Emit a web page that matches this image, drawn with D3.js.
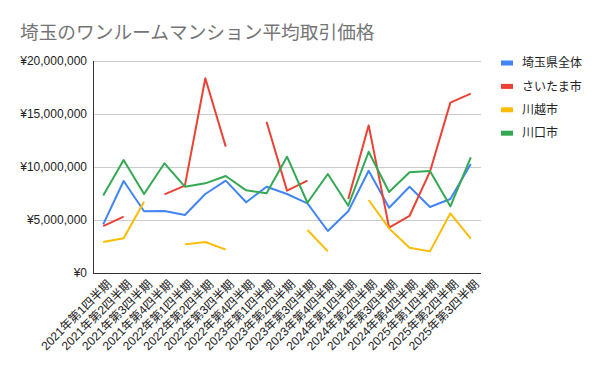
<!DOCTYPE html>
<html>
<head>
<meta charset="utf-8">
<script src="https://cdn.jsdelivr.net/npm/d3@7"></script>
<style>
  body { margin: 0; background: #fff; }
  svg { font-family: Arial, "Liberation Sans", "Noto Sans CJK JP", sans-serif; }
</style>
</head>
<body>
<div id="chart"></div>
<script>
const quarters = [
  "2021年第1四半期", "2021年第2四半期", "2021年第3四半期", "2021年第4四半期",
  "2022年第1四半期", "2022年第2四半期", "2022年第3四半期", "2022年第4四半期",
  "2023年第1四半期", "2023年第2四半期", "2023年第3四半期", "2023年第4四半期",
  "2024年第1四半期", "2024年第2四半期", "2024年第3四半期", "2024年第4四半期",
  "2025年第1四半期", "2025年第2四半期", "2025年第3四半期"
];

// null = no data for that quarter (line breaks)
const saitamaPref = [4590000, 8680000, 5820000, 5850000, 5470000, 7450000, 8710000, 6670000, 8140000, 7450000,
  6570000, 3960000, 5820000, 9650000, 6160000, 8140000, 6230000, 6980000, 10280000];
const saitamaCity = [4430000, 5310000, null, 7420000, 8240000, 18370000, 11920000, null, 14270000, 7770000,
  8710000, null, 6980000, 13930000, 4280000, 5380000, 9560000, 16070000, 16920000];
const kawagoe = [2920000, 3270000, 6730000, null, 2700000, 2920000, 2200000, null, null, null,
  4060000, 2040000, null, 6890000, 4210000, 2390000, 2040000, 5630000, 3240000];
const kawaguchi = [7300000, 10660000, 7450000, 10350000, 8140000, 8460000, 9150000, 7800000, 7520000, 10970000,
  6630000, 9340000, 6350000, 11440000, 7640000, 9500000, 9620000, 6290000, 10910000];

const seriesNames = ["埼玉県全体", "さいたま市", "川越市", "川口市"];
const seriesColors = ["#4285f4", "#ea4335", "#fbbc04", "#34a853"];
const yTicks = [0, 5000000, 10000000, 15000000, 20000000];

const series = [saitamaPref, saitamaCity, kawagoe, kawaguchi].map((vals, i) => ({
  name: seriesNames[i], color: seriesColors[i], values: vals
}));

const width = 600, height = 371;
const margin = { top: 61, right: 119, bottom: 98, left: 93 };

const svg = d3.select("#chart").append("svg")
  .attr("width", width)
  .attr("height", height);

const x = d3.scaleBand()
  .domain(quarters)
  .range([margin.left, width - margin.right]);

const y = d3.scaleLinear()
  .domain([0, 20000000])
  .range([height - margin.bottom, margin.top]);

// title
svg.append("text")
  .attr("x", 20)
  .attr("y", 38.5)
  .attr("fill", "#757575")
  .style("font-size", "18.7px")
  .text("埼玉のワンルームマンション平均取引価格");

// grid
svg.append("g")
  .selectAll("line")
  .data(yTicks.slice(1))
  .join("line")
  .attr("x1", margin.left)
  .attr("x2", width - margin.right)
  .attr("y1", d => y(d) + 0.5)
  .attr("y2", d => y(d) + 0.5)
  .attr("stroke", "#cccccc")
  .attr("stroke-width", 1);

// y axis labels
const fmt = d3.format(",");
svg.append("g")
  .selectAll("text")
  .data(yTicks)
  .join("text")
  .attr("x", margin.left - 6)
  .attr("y", d => y(d))
  .attr("dy", "0.35em")
  .attr("text-anchor", "end")
  .attr("fill", "#222")
  .style("font-size", "12px")
  .text(d => "¥" + fmt(d));

// x axis labels
svg.append("g")
  .selectAll("text")
  .data(quarters)
  .join("text")
  .attr("transform", d => `translate(${x(d) + x.bandwidth() / 2 + 6},${height - margin.bottom + 9}) rotate(-45)`)
  .attr("text-anchor", "end")
  .attr("dy", "0.35em")
  .attr("fill", "#222")
  .style("font-size", "12px")
  .text(d => d);

// lines
const line = d3.line()
  .defined(d => d != null)
  .x((d, i) => x(quarters[i]) + x.bandwidth() / 2)
  .y(d => y(d));

svg.append("g")
  .selectAll("path")
  .data(series)
  .join("path")
  .attr("fill", "none")
  .attr("stroke", d => d.color)
  .attr("stroke-width", 2)
  .attr("stroke-linejoin", "round")
  .attr("d", d => line(d.values));

// axis lines
svg.append("line")
  .attr("x1", margin.left + 0.5).attr("x2", margin.left + 0.5)
  .attr("y1", margin.top).attr("y2", height - margin.bottom)
  .attr("stroke", "#333");
svg.append("line")
  .attr("x1", margin.left).attr("x2", width - margin.right)
  .attr("y1", height - margin.bottom + 0.5).attr("y2", height - margin.bottom + 0.5)
  .attr("stroke", "#333");

// legend
const legend = svg.append("g")
  .selectAll("g")
  .data(series)
  .join("g")
  .attr("transform", (d, i) => `translate(501, ${63 + i * 23.4})`);

legend.append("rect")
  .attr("y", -2.5)
  .attr("width", 12)
  .attr("height", 5)
  .attr("fill", d => d.color);

legend.append("text")
  .attr("x", 21)
  .attr("dy", "0.35em")
  .attr("fill", "#222")
  .style("font-size", "12px")
  .text(d => d.name);
</script>
</body>
</html>
